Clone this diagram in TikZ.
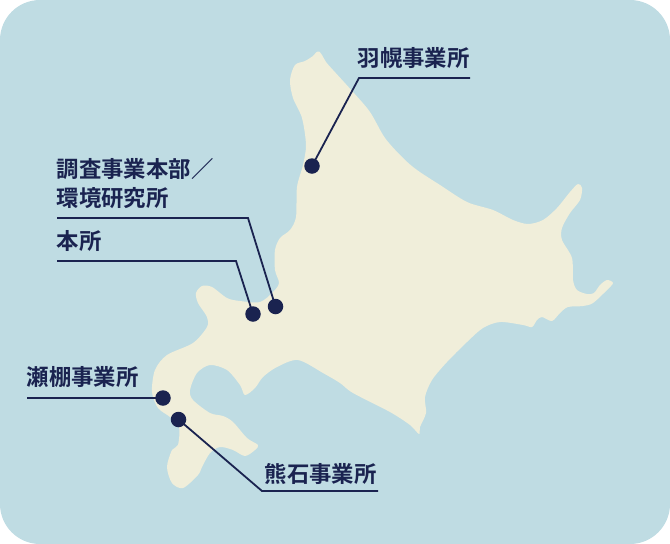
\documentclass[tikz,border=0pt]{standalone}
\usepackage{fontspec}
\setmainfont{Noto Sans CJK JP}[BoldFont={Noto Sans CJK JP Bold}]
\definecolor{sea}{HTML}{BFDCE3}
\definecolor{land}{HTML}{F0EEDA}
\definecolor{navy}{HTML}{1A2350}
\tikzset{
  place/.style={circle,fill=navy,minimum size=15.5pt,inner sep=0pt},
  lead/.style={draw=navy,line width=1.8pt,line join=miter},
  lbl/.style={anchor=base west,inner sep=0pt,text=navy,font=\fontsize{22.4pt}{26pt}\selectfont\bfseries}
}
\begin{document}
\begin{tikzpicture}[x=1pt,y=-1pt]
\useasboundingbox (0,0) rectangle (670,544);
\fill[sea,rounded corners=40pt] (0,0) rectangle (670,544);
\fill[land] plot[smooth cycle,tension=0.5] coordinates {
(316,52.5)(319,51.5)(322,55)(326,62)(333,70)(353,92)(370,112)(385,138)(403,158)(417,170)(440,185)(467,202)(493,210)(513,220)(528,224)(543,220)(557,208)(570,192)(578,184)(582,188)(580,200)(570,213)(562,228)(562,240)(572,258)(573,280)(577,290)(587,294)(594,293)(600,285)(607,280)(613,283)(607,290)(593,303)(583,306)(568,307)(560,313)(552,321)(542,317)(537,320)(532,327)(523,325)(500,322)(483,328)(467,342)(447,362)(432,380)(425,397)(426,413)(420,427)(419,434)(410,425)(390,412)(353,393)(340,383)(323,373)(298,360)(277,367)(263,377)(255,388)(245,395)(240,385)(227,370)(210,365)(197,373)(190,390)(193,400)(210,413)(223,416)(233,422)(247,438)(258,445)(255,450)(245,456)(233,450)(220,447)(210,453)(202,467)(198,475)(183,488)(172,483)(167,467)(172,450)(178,445)(179,427)(170,417)(158,408)(152,392)(155,370)(167,355)(193,343)(207,327)(207,317)(198,303)(196,293)(202,286)(212,287)(227,298)(240,301)(260,302)(273,292)(279,283)(275,270)(275,250)(280,238)(290,230)(296,217)(297,187)(303,165)(306,145)(302,118)(293,98)(290,80)(295,65)(305,61)(313,56)};
\coordinate (e1a) at (470,78); \coordinate (e1b) at (359,78);
\coordinate (e2a) at (57,218); \coordinate (e2b) at (248,218);
\coordinate (e3a) at (57,261); \coordinate (e3b) at (236,261);
\coordinate (e4a) at (27,398);
\coordinate (e5a) at (378,491); \coordinate (e5b) at (262,491);
\node[place] (haboro) at (312,166) {};
\node[place] (chosa) at (275.5,306.5) {};
\node[place] (honsho) at (253,314) {};
\node[place] (setana) at (163,398) {};
\node[place] (kumaishi) at (178.5,419.5) {};
\draw[lead] (e1a) -- (e1b) -- (haboro.center);
\draw[lead] (e2a) -- (e2b) -- (chosa.center);
\draw[lead] (e3a) -- (e3b) -- (honsho.center);
\draw[lead] (e4a) -- (setana.center);
\draw[lead] (e5a) -- (e5b) -- (kumaishi.center);
\node[lbl] (t1) at (357.5,66.5) {羽幌事業所};
\node[lbl] (t2) at (56.5,177) {調査事業本部／};
\node[lbl] (t3) at (56.5,206) {環境研究所};
\node[lbl] (t4) at (56.5,249) {本所};
\node[lbl] (t5) at (26.5,385) {瀬棚事業所};
\node[lbl] (t6) at (264.5,482) {熊石事業所};
\end{tikzpicture}
\end{document}
